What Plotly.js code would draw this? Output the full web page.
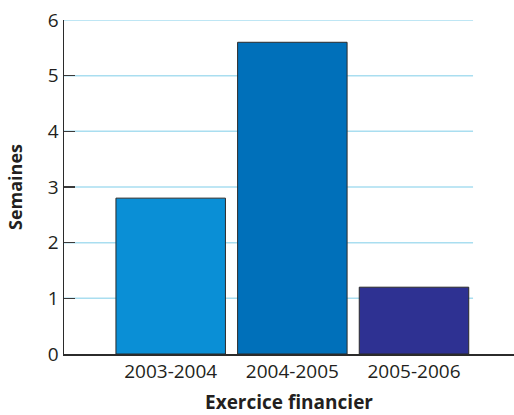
<!DOCTYPE html>
<html>
<head>
<meta charset="utf-8">
<script src="https://cdn.plot.ly/plotly-3.0.1.min.js"></script>
<style>
  html, body { margin: 0; padding: 0; background: #ffffff; }
  #chart { width: 514px; height: 415px; }
</style>
</head>
<body>
<div id="chart"></div>
<script>
// Durée moyenne (en semaines) par exercice financier
const exercices = ['2003-2004', '2004-2005', '2005-2006'];
const semaines = [2.8, 5.6, 1.2];
const couleurs = ['#0a8fd6', '#0070ba', '#2e3192'];
const yTicks = [0, 1, 2, 3, 4, 5, 6];

const textColor = '#231f20';
const gridColor = '#a9def0';

// Light horizontal guide lines at each labelled value above zero
const guides = yTicks.filter(v => v > 0).map(v => ({
  type: 'line', xref: 'paper', yref: 'y',
  x0: 0, x1: 0.909, y0: v, y1: v,
  line: { color: gridColor, width: 1.5 },
  layer: 'below'
}));

const trace = {
  type: 'bar',
  x: exercices,
  y: semaines,
  marker: { color: couleurs, line: { color: '#2b2b2b', width: 1 } },
  hoverinfo: 'x+y'
};

const layout = {
  width: 514, height: 415,
  margin: { l: 64, r: 0, t: 20, b: 61 },
  paper_bgcolor: '#ffffff', plot_bgcolor: '#ffffff',
  showlegend: false,
  bargap: 0.1,
  font: { family: 'Open Sans, sans-serif', color: textColor },
  xaxis: {
    type: 'category',
    range: [-0.877, 2.822],
    showgrid: false, zeroline: false,
    showline: true, linecolor: '#2b2b2b', linewidth: 1.5,
    ticks: '',
    tickfont: { size: 19, color: textColor },
    title: { text: '<b>Exercice financier</b>', font: { size: 19, color: textColor }, standoff: 21 }
  },
  yaxis: {
    range: [0, 6],
    tickvals: yTicks,
    showgrid: false, zeroline: false,
    showline: true, linecolor: '#2b2b2b', linewidth: 1.5,
    ticks: 'inside', ticklen: 11, tickwidth: 1.5, tickcolor: '#3a3a3a',
    tickfont: { size: 19, color: textColor },
    title: { text: '<b>Semaines</b>', font: { size: 18, color: textColor }, standoff: 20 }
  },
  shapes: guides
};

Plotly.newPlot('chart', [trace], layout, { displayModeBar: false, staticPlot: true });
</script>
</body>
</html>
